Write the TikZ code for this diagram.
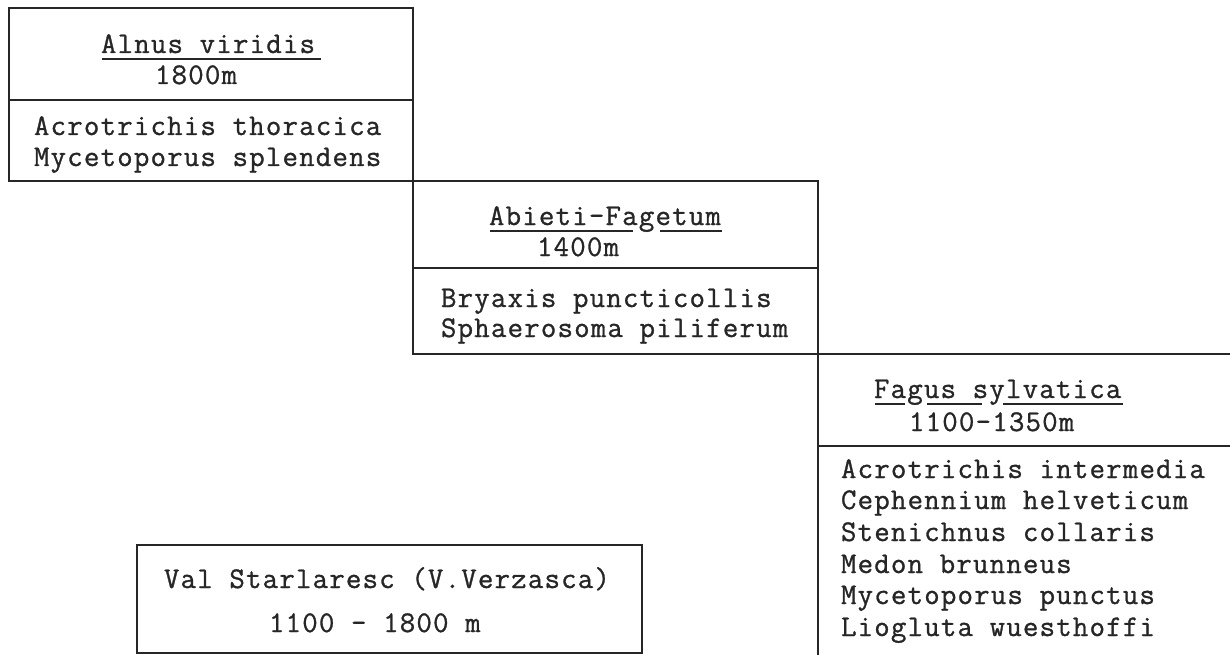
\documentclass[tikz,border=0pt]{standalone}
\usepackage{fontspec}
\newfontfamily\twfont{Latin Modern Mono}[LetterSpace=4,FakeBold=1]
\usetikzlibrary{calc}
\begin{document}
\begin{tikzpicture}[x=1pt,y=-1pt,
  rule/.style={line width=1.7pt,draw=black!85},
  uline/.style={line width=1.3pt,draw=black!85},
  txt/.style={anchor=base west,inner sep=0pt,outer sep=0pt,font=\twfont\fontsize{30}{32}\selectfont,text=black!85}]
\useasboundingbox (0,0) rectangle (1230,655);
% staircase frame
\draw[rule] (413,181) -- (413,8) -- (9,8) -- (9,181) -- (818,181) -- (818,655);
\draw[rule] (9,100) -- (413,100);
\draw[rule] (413,181) -- (413,354) -- (1230,354);
\draw[rule] (413,268) -- (818,268);
\draw[rule] (818,446) -- (1230,446);
% box 1
\node[txt] (h1) at (101,53) {Alnus viridis};
\draw[uline] ($(h1.base west)+(1,6)$) -- ++(219,0);
\node[txt] (a1) at (155,84) {1800m};
\node[txt] (s11) at (34,135) {Acrotrichis thoracica};
\node[txt] (s12) at (34,166) {Mycetoporus splendens};
% box 2
\node[txt] (h2) at (489,225) {Abieti-Fagetum};
\draw[uline] ($(h2.base west)+(1,6)$) -- ++(143,0);
\draw[uline] ($(h2.base west)+(171,6)$) -- ++(62,0);
\node[txt] (a2) at (537,256) {1400m};
\node[txt] (s21) at (441,307) {Bryaxis puncticollis};
\node[txt] (s22) at (441,337) {Sphaerosoma piliferum};
% box 3
\node[txt] (h3) at (874,398) {Fagus sylvatica};
\draw[uline] ($(h3.base west)+(1,6)$) -- ++(30,0);
\draw[uline] ($(h3.base west)+(53,6)$) -- ++(55,0);
\draw[uline] ($(h3.base west)+(129,6)$) -- ++(120,0);
\node[txt] (a3) at (909,431) {1100-1350m};
\node[txt] (s31) at (841,478) {Acrotrichis intermedia};
\node[txt] (s32) at (841,509) {Cephennium helveticum};
\node[txt] (s33) at (841,541) {Stenichnus collaris};
\node[txt] (s34) at (841,573) {Medon brunneus};
\node[txt] (s35) at (841,604) {Mycetoporus punctus};
\node[txt] (s36) at (841,636) {Liogluta wuesthoffi};
% location box
\draw[rule] (137,545) rectangle (642,653);
\node[txt] (v1) at (164,588) {Val Starlaresc (V.Verzasca)};
\node[txt] (v2) at (269,632) {1100 - 1800 m};
\end{tikzpicture}
\end{document}
